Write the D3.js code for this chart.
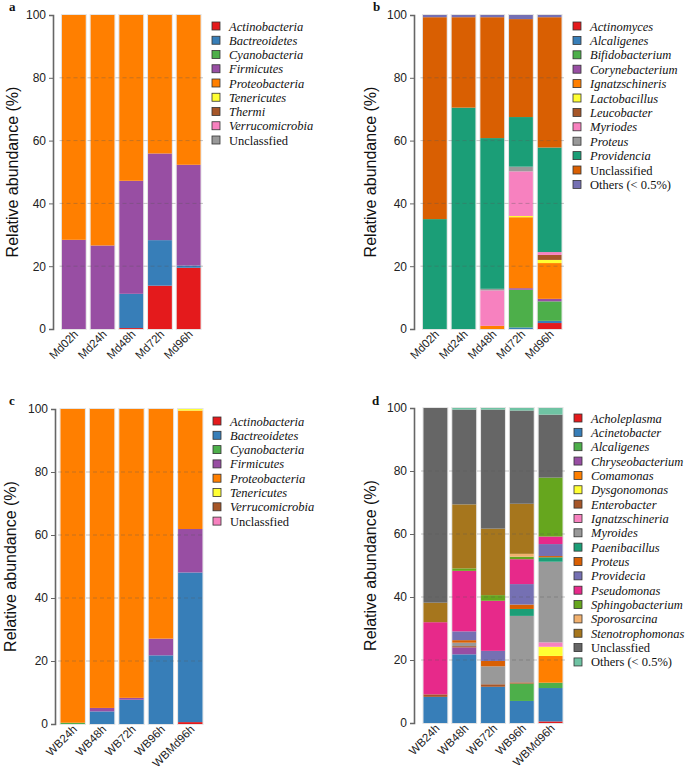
<!DOCTYPE html>
<html><head><meta charset="utf-8">
<script src="https://cdn.jsdelivr.net/npm/d3@7"></script>
<style>
html,body{margin:0;padding:0;background:#fff;}
svg{display:block;}
</style></head>
<body>
<svg id="chart" width="685" height="771"></svg>
<script>
// ---------- DATA ----------
const yTicks = [0, 20, 40, 60, 80, 100];

// Panel a
const aCategories = ["Md02h", "Md24h", "Md48h", "Md72h", "Md96h"];
const aTaxa = ["Actinobacteria", "Bactreoidetes", "Cyanobacteria", "Firmicutes", "Proteobacteria", "Tenericutes", "Thermi", "Verrucomicrobia", "Unclassfied"];
const aValues = [
  [0, 0, 0.3, 13.8, 19.5],
  [0, 0, 10.9, 14.5, 0.7],
  [0, 0, 0, 0, 0],
  [28.4, 26.6, 36.0, 27.6, 32.1],
  [71.6, 73.4, 52.8, 44.1, 47.7],
  [0, 0, 0, 0, 0],
  [0, 0, 0, 0, 0],
  [0, 0, 0, 0, 0],
  [0, 0, 0, 0, 0]
];

// Panel b
const bCategories = ["Md02h", "Md24h", "Md48h", "Md72h", "Md96h"];
const bTaxa = ["Actinomyces", "Alcaligenes", "Bifidobacterium", "Corynebacterium", "Ignatzschineris", "Lactobacillus", "Leucobacter", "Myriodes", "Proteus", "Providencia", "Unclassified", "Others (< 0.5%)"];
const bValues = [
  [0, 0, 0, 0, 1.9],
  [0, 0, 0, 0.5, 0.7],
  [0, 0, 0, 12.0, 6.2],
  [0, 0, 0, 0.5, 0.8],
  [0, 0, 1.0, 22.6, 11.4],
  [0, 0, 0, 0.4, 1.0],
  [0, 0, 0, 0, 1.6],
  [0, 0, 11.3, 14.2, 0.9],
  [0, 0, 0.5, 1.5, 0],
  [35.0, 70.5, 48.0, 15.8, 33.3],
  [64.3, 28.8, 38.5, 31.2, 41.5],
  [0.7, 0.7, 0.7, 1.3, 0.7]
];

// Panel c
const cCategories = ["WB24h", "WB48h", "WB72h", "WB96h", "WBMd96h"];
const cTaxa = ["Actinobacteria", "Bactreoidetes", "Cyanobacteria", "Firmicutes", "Proteobacteria", "Tenericutes", "Verrucomicrobia", "Unclassfied"];
const cValues = [
  [0, 0, 0, 0, 0.6],
  [0, 4.0, 7.7, 21.8, 47.5],
  [0.4, 0, 0, 0, 0],
  [0, 1.1, 0.6, 5.3, 13.8],
  [99.6, 94.9, 91.7, 72.9, 37.6],
  [0, 0, 0, 0, 0.5],
  [0, 0, 0, 0, 0],
  [0, 0, 0, 0, 0]
];

// Panel d
const dCategories = ["WB24h", "WB48h", "WB72h", "WB96h", "WBMd96h"];
const dTaxa = ["Acholeplasma", "Acinetobacter", "Alcaligenes", "Chryseobacterium", "Comamonas", "Dysgonomonas", "Enterobacter", "Ignatzschineria", "Myroides", "Paenibacillus", "Proteus", "Providecia", "Pseudomonas", "Sphingobacterium", "Sporosarcina", "Stenotrophomonas", "Unclassfied", "Others (< 0.5%)"];
const dValues = [
  [0, 0, 0, 0, 0.5],
  [8.3, 21.8, 11.5, 7.0, 10.6],
  [0, 0, 0, 5.5, 1.7],
  [0, 2.2, 0, 0, 0],
  [0, 0, 0, 0, 8.5],
  [0, 0, 0, 0, 2.9],
  [0.8, 0.4, 0.8, 0.4, 0],
  [0, 0, 0, 0, 1.4],
  [0, 1.1, 5.7, 21.1, 25.6],
  [0, 0, 0, 2.2, 1.4],
  [0, 0.8, 1.7, 1.4, 0.4],
  [0, 2.8, 3.2, 6.5, 3.8],
  [22.9, 19.2, 15.9, 7.9, 2.4],
  [0, 0.8, 1.8, 0.8, 18.7],
  [0, 0, 0, 0.9, 0],
  [6.2, 20.3, 21.1, 15.9, 0],
  [61.8, 30.1, 37.8, 29.6, 20.0],
  [0, 0.5, 0.5, 0.8, 2.1]
];

// ---------- STYLE ----------
const set1 = ["#E41A1C", "#377EB8", "#4DAF4A", "#984EA3", "#FF7F00", "#FFFF33", "#A65628", "#F781BF", "#999999"];
const aColors = set1;
const bColors = set1.concat(["#1B9E77", "#D95F02", "#7570B3"]);
const cColors = ["#E41A1C", "#377EB8", "#4DAF4A", "#984EA3", "#FF7F00", "#FFFF33", "#A65628", "#F781BF"];
const dColors = ["#E41A1C", "#377EB8", "#4DAF4A", "#984EA3", "#FF7F00", "#FFFF33", "#A65628", "#F781BF", "#999999",
  "#1B9E77", "#D95F02", "#7570B3", "#E7298A", "#66A61E", "#F2B16E", "#A6761D", "#666666", "#6FC3A3"];
const uprightNames = ["Unclassified", "Unclassfied", "Others (< 0.5%)"];

const svg = d3.select("#chart");

function drawPanel(cfg) {
  const g = svg.append("g");
  const x = d3.scaleBand().domain(cfg.categories).range([cfg.x0, cfg.x1]).paddingInner(0.17).paddingOuter(0.085);
  const y = d3.scaleLinear().domain([0, 100]).range([cfg.yBottom, cfg.yTop]);

  const table = cfg.categories.map((c, i) => {
    const row = { cat: c };
    cfg.taxa.forEach((t, k) => { row[t] = cfg.values[k][i]; });
    return row;
  });
  const series = d3.stack().keys(cfg.taxa)(table);
  const color = d3.scaleOrdinal().domain(cfg.taxa).range(cfg.colors);

  // bar outlines (light)
  g.append("g").selectAll("rect").data(cfg.categories).join("rect")
    .attr("x", d => x(d) - 0.5).attr("width", x.bandwidth() + 1)
    .attr("y", y(100) - 0.5).attr("height", y(0) - y(100) + 1)
    .attr("fill", "none").attr("stroke", "#e4e4e4").attr("stroke-width", 1);

  g.append("g").selectAll("g").data(series).join("g")
    .attr("fill", d => color(d.key))
    .selectAll("rect").data(d => d).join("rect")
    .attr("x", d => x(d.data.cat))
    .attr("width", x.bandwidth())
    .attr("y", d => y(d[1]))
    .attr("height", d => Math.max(0, y(d[0]) - y(d[1])));

  // dashed grid over bars
  g.append("g").selectAll("line").data(yTicks.filter(t => t > 0 && t < 100)).join("line")
    .attr("x1", cfg.x0).attr("x2", cfg.x1)
    .attr("y1", d => y(d)).attr("y2", d => y(d))
    .attr("stroke", "rgba(90,90,90,0.35)").attr("stroke-width", 1)
    .attr("stroke-dasharray", "4,3");

  // y axis
  const yAxis = d3.axisLeft(y).tickValues(yTicks).tickSize(4).tickPadding(3);
  const ya = g.append("g").attr("transform", `translate(${cfg.axisX},0)`).call(yAxis);
  ya.select(".domain").attr("stroke", "#666").attr("stroke-width", 1.6);
  ya.selectAll(".tick line").attr("stroke", "#666");
  ya.selectAll("text").attr("font-family", "Liberation Sans, Arial, sans-serif").attr("font-size", 12).attr("fill", "#222");

  // x labels
  const xAxis = d3.axisBottom(x).tickSize(0).tickPadding(0);
  const xa = g.append("g").attr("transform", `translate(0,${cfg.yBottom})`).call(xAxis);
  xa.select(".domain").remove();
  xa.selectAll("text")
    .attr("font-family", "Liberation Sans, Arial, sans-serif").attr("font-size", 11.5).attr("fill", "#222")
    .attr("text-anchor", "end").attr("dy", null).attr("y", 0)
    .attr("transform", "translate(5,6) rotate(-45)");

  // y title
  g.append("text")
    .attr("transform", `translate(${cfg.titleX},${(cfg.yTop + cfg.yBottom) / 2}) rotate(-90)`)
    .attr("text-anchor", "middle")
    .attr("font-family", "Liberation Sans, Arial, sans-serif").attr("font-size", 16).attr("fill", "#111")
    .text("Relative abundance (%)");

  // panel letter
  g.append("text").attr("x", cfg.labelX).attr("y", cfg.labelY)
    .attr("font-family", "Liberation Serif, Times New Roman, serif").attr("font-weight", "bold")
    .attr("font-size", 13).attr("fill", "#111").text(cfg.label);

  // legend
  const lg = g.append("g").selectAll("g").data(cfg.taxa).join("g")
    .attr("transform", (d, i) => `translate(${cfg.legendX},${cfg.legendY + i * cfg.legendStep})`);
  lg.append("rect").attr("x", 0).attr("y", -4).attr("width", 8).attr("height", 8)
    .attr("fill", d => color(d)).attr("stroke", "#333").attr("stroke-width", 0.8);
  lg.append("text").attr("x", 17).attr("y", 4.5)
    .attr("font-family", "Liberation Serif, Times New Roman, serif").attr("font-size", 12.5)
    .attr("font-style", d => uprightNames.includes(d) ? "normal" : "italic")
    .attr("fill", "#111").text(d => d);
}

drawPanel({ categories: aCategories, taxa: aTaxa, values: aValues, colors: aColors,
  x0: 59.5, x1: 203, yTop: 15, yBottom: 329, axisX: 53, titleX: 18,
  label: "a", labelX: 9, labelY: 11, legendX: 212, legendY: 26, legendStep: 14.25 });

drawPanel({ categories: bCategories, taxa: bTaxa, values: bValues, colors: bColors,
  x0: 420.5, x1: 564, yTop: 15, yBottom: 329, axisX: 414, titleX: 376,
  label: "b", labelX: 373, labelY: 11, legendX: 573, legendY: 26, legendStep: 14.4 });

drawPanel({ categories: cCategories, taxa: cTaxa, values: cValues, colors: cColors,
  x0: 58, x1: 205, yTop: 409, yBottom: 724, axisX: 55, titleX: 16,
  label: "c", labelX: 9, labelY: 405, legendX: 213, legendY: 421, legendStep: 14.3 });

drawPanel({ categories: dCategories, taxa: dTaxa, values: dValues, colors: dColors,
  x0: 421, x1: 565, yTop: 408, yBottom: 723, axisX: 414, titleX: 376,
  label: "d", labelX: 372, labelY: 405, legendX: 574, legendY: 418, legendStep: 14.35 });
</script>
</body></html>
